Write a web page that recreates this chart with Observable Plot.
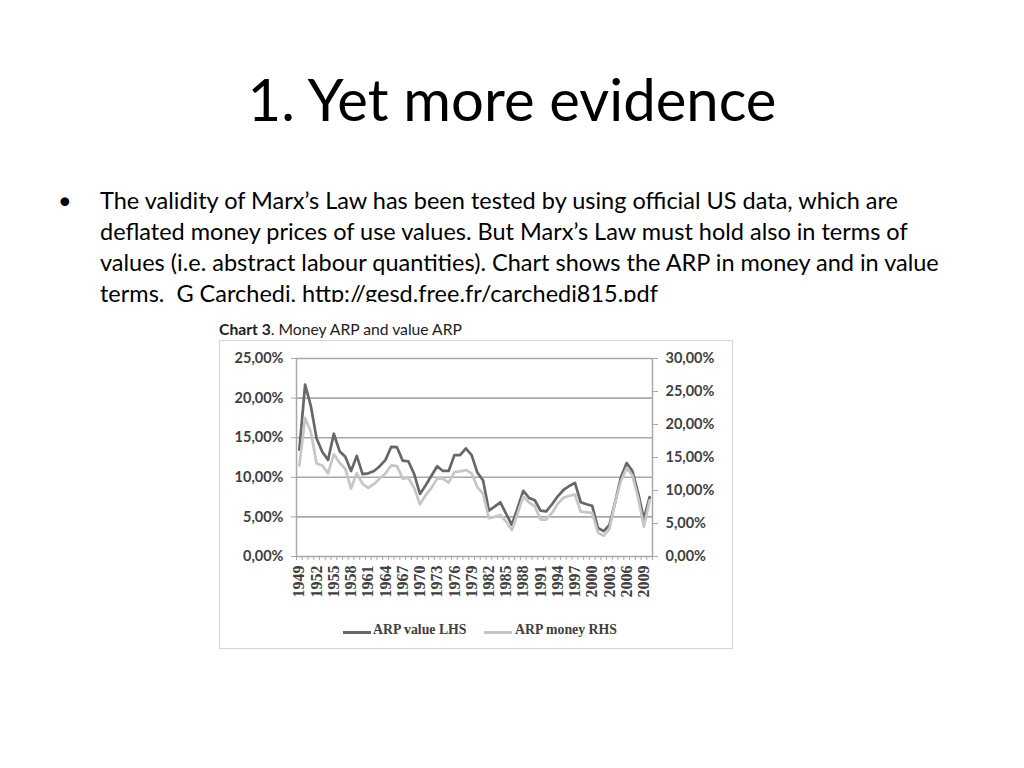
<!DOCTYPE html>
<html><head><meta charset="utf-8">
<script src="https://cdn.jsdelivr.net/npm/d3@7"></script>
<script src="https://cdn.jsdelivr.net/npm/@observablehq/plot@0.6"></script>
<style>
body{margin:0;width:1024px;height:768px;background:#fff;position:relative;overflow:hidden;font-family:Lato,"Open Sans",sans-serif;color:#000;}
#title{position:absolute;left:0;width:1024px;top:64px;text-align:center;font-size:58px;line-height:70px;}
#bullet{position:absolute;left:58px;top:185px;font-size:23.5px;line-height:31px;}
#text{position:absolute;left:100px;top:185px;font-size:23.5px;line-height:31px;white-space:pre;}
#chartwrap{position:absolute;left:218px;top:302px;width:518px;height:350px;background:#fff;}
#heading{position:absolute;left:1px;top:18px;font-size:15.7px;color:#222;white-space:nowrap;}
#box{position:absolute;left:1px;top:38px;width:512px;height:307px;border:1.5px solid #d4d4d4;}
#plot{position:absolute;left:0;top:0;}
#legend{position:absolute;left:0;top:281px;width:512px;font-family:"Liberation Serif","DejaVu Serif",serif;font-size:13.8px;font-weight:bold;color:#404040;}
.sw{position:absolute;top:9px;height:2.6px;width:28px;}
.lt{position:absolute;top:0;white-space:nowrap;}
</style>
</head><body>
<div id="title">1. Yet more evidence</div>
<div id="bullet">•</div>
<div id="text">The validity of Marx’s Law has been tested by using official US data, which are
deflated money prices of use values. But Marx’s Law must hold also in terms of
values (i.e. abstract labour quantities). Chart shows the ARP in money and in value
terms.  G Carchedi, http://gesd.free.fr/carchedi815.pdf</div>
<div id="chartwrap">
  <div id="heading"><b>Chart 3</b>. Money ARP and value ARP</div>
  <div id="box">
    <div id="plot"></div>
    <div id="legend">
      <div class="sw" style="left:123px;background:#676767"></div>
      <div class="lt" style="left:153px">ARP value LHS</div>
      <div class="sw" style="left:264px;background:#c6c6c6"></div>
      <div class="lt" style="left:295px">ARP money RHS</div>
    </div>
  </div>
</div>
<script>
const years = d3.range(1949, 2011);
const valueLHS = [13.5,21.7,19.0,14.9,13.2,12.2,15.5,13.3,12.6,10.8,12.7,10.4,10.5,10.8,11.4,12.2,13.85,13.8,12.1,12.0,10.4,7.9,9.0,10.2,11.4,10.8,10.8,12.8,12.8,13.65,12.8,10.6,9.6,5.8,6.3,6.85,5.4,4.0,6.1,8.3,7.4,7.1,5.8,5.7,6.6,7.6,8.4,8.9,9.3,6.85,6.6,6.4,3.6,3.2,4.0,6.9,10.0,11.8,10.8,8.0,4.75,7.5];
const moneyRHS = [13.8,21.0,18.9,14.1,13.8,12.6,15.5,14.2,13.3,10.3,12.6,11.0,10.4,11.0,11.8,12.6,13.8,13.7,11.8,11.9,10.4,7.9,9.3,10.4,11.8,11.8,11.2,12.8,12.9,13.1,12.6,10.5,9.5,5.8,6.0,6.3,5.3,4.0,6.5,9.1,8.2,7.6,5.6,5.6,6.6,8.0,8.9,9.2,9.4,6.8,6.7,6.6,3.6,3.15,4.2,8.3,11.4,13.4,12.3,8.9,4.5,8.5];
const leftTicks = [0,5,10,15,20,25];
const rightTicks = [0,5,10,15,20,25,30];
const labelYears = d3.range(1949, 2010, 3);
const leftMax = 25, rightMax = 30;

const fmt = v => v.toFixed(2).replace(".", ",") + "%";
const toLeft = v => v * leftMax / rightMax;

const plot = Plot.plot({
  width: 512, height: 272,
  marginTop: 17, marginBottom: 57, marginLeft: 76, marginRight: 80,
  x: {domain: [1948.5, 2010.5], axis: null},
  y: {domain: [0, leftMax], axis: null},
  style: {fontFamily: "Lato, sans-serif", background: "transparent", overflow: "visible"},
  marks: [
    Plot.gridY(leftTicks.slice(1), {stroke: "#a8a8a8", strokeOpacity: 1, strokeWidth: 1.6}),
    Plot.axisY(leftTicks, {anchor: "left", tickSize: 5, tickPadding: 8, stroke: "#a8a8a8", tickFormat: fmt, fill: "#404040", fontSize: 14.5, fontWeight: "bold", label: null}),
    Plot.axisY(rightTicks.map(toLeft), {anchor: "right", tickSize: 5, tickPadding: 8, stroke: "#a8a8a8", tickFormat: d => fmt(d * rightMax / leftMax), fill: "#404040", fontSize: 14.5, fontWeight: "bold", label: null}),
    Plot.ruleX([1948.5, 2010.5], {stroke: "#a8a8a8", strokeWidth: 1.5}),
    Plot.axisX(d3.range(1948.5, 2011, 1), {tickSize: 4, stroke: "#a8a8a8", tickFormat: () => "", label: null}),
    Plot.axisX(labelYears, {tickSize: 0, tickPadding: 9, tickRotate: -90, tickFormat: d => String(d), fontFamily: "Liberation Serif, DejaVu Serif, serif", fontSize: 16, fontWeight: "bold", fill: "#404040", label: null}),
    Plot.ruleY([0], {stroke: "#a8a8a8", strokeWidth: 1.5}),
    Plot.line(years, {x: d => d, y: (d, i) => valueLHS[i], stroke: "#676767", strokeWidth: 2.7}),
    Plot.line(years, {x: d => d, y: (d, i) => toLeft(moneyRHS[i]), stroke: "#c6c6c6", strokeWidth: 2.7})
  ]
});
document.getElementById("plot").appendChild(plot);
</script>
</body></html>
